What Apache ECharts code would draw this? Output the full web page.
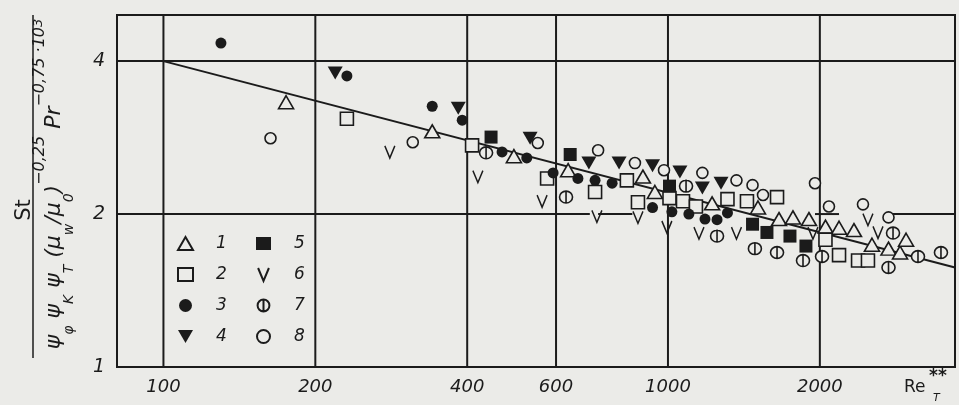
<!DOCTYPE html>
<html>
<head>
<meta charset="utf-8">
<title>St vs Re</title>
<script src="https://cdn.jsdelivr.net/npm/echarts@6/dist/echarts.min.js"></script>
<style>
  html, body { margin: 0; padding: 0; background: #ebebe8; }
  #chart { width: 959px; height: 405px; }
</style>
</head>
<body>
<div id="chart"></div>
<script>
// axis range and ticks
const xMin = 80.9, xMax = 3706;
const yMin = 1, yMax = 4.93;
const xTicks = [100, 200, 400, 600, 1000, 2000];
const yTicks = [1, 2, 4];
const xGridValues = [100, 200, 400, 600, 1000, 2000];
// the line at St=2 is only partly drawn in the original (hidden behind the points)
const yTwoSegments = [[80.9, 700], [727, 850], [1956, 2183], [2770, 3706]];

// correlation line
const fitLine = [[100, 4.0], [3706, 1.57]];

// measured points, [Re, St-group]
const series1 = [[175, 3.32], [341, 2.91], [495, 2.60], [634, 2.44], [892, 2.37], [942, 2.21], [1223, 2.10], [1508, 2.06],
  [1660, 1.955], [1769, 1.97], [1903, 1.955], [2052, 1.89], [2183, 1.88], [2337, 1.86], [2537, 1.74], [2736, 1.71], [2884, 1.68], [2964, 1.78]];
const series2 = [[231, 3.08], [409, 2.73], [576, 2.35], [717, 2.21], [829, 2.33], [872, 2.11], [1007, 2.15], [1071, 2.12],
  [1136, 2.07], [1312, 2.14], [1434, 2.12], [1645, 2.16], [2052, 1.78], [2183, 1.66], [2381, 1.62], [2491, 1.62]];
const series3 = [[130, 4.34], [231, 3.74], [341, 3.26], [391, 3.06], [469, 2.65], [525, 2.58], [592, 2.41], [663, 2.35],
  [717, 2.33], [775, 2.30], [932, 2.06], [1018, 2.02], [1100, 2.00], [1184, 1.955], [1251, 1.95], [1312, 2.01]];
const series4 = [[219, 3.79], [384, 3.23], [533, 2.82], [697, 2.52], [800, 2.52], [932, 2.49], [1056, 2.42], [1170, 2.25], [1274, 2.30]];
const series5 = [[446, 2.835], [640, 2.62], [1007, 2.27], [1471, 1.91], [1571, 1.84], [1745, 1.81], [1877, 1.73]];
const series6 = [[281, 2.65], [420, 2.37], [563, 2.12], [723, 1.98], [872, 1.97], [995, 1.886], [1152, 1.835], [1367, 1.835],
  [1938, 1.835], [2491, 1.95], [2608, 1.84]];
const series7 = [[436, 2.64], [628, 2.16], [1086, 2.27], [1251, 1.81], [1487, 1.71], [1645, 1.68], [1852, 1.62], [2020, 1.65],
  [2793, 1.835], [2736, 1.57], [3130, 1.65], [3476, 1.68]];
const series8 = [[163, 2.82], [312, 2.77], [552, 2.76], [727, 2.67], [860, 2.52], [982, 2.44], [1170, 2.41], [1367, 2.33],
  [1471, 2.28], [1543, 2.18], [1956, 2.30], [2085, 2.07], [2435, 2.09], [2736, 1.97]];

const ink = '#1b1b1b';
const paper = '#ebebe8';
const font = 'DejaVu Sans';

const V_PATH = 'path://M0,0L5,12L10,0';
const DOWN_TRI = 'path://M0,0L14,0L7,12Z';
const PHI_PATH = 'path://M0,10A10,10,0,1,1,20,10A10,10,0,1,1,0,10ZM10,-1L10,21';

function pts(name, data, symbol, size, fill) {
  return {
    name: name,
    type: 'scatter',
    data: data,
    symbol: symbol,
    symbolSize: size,
    z: 5,
    silent: true,
    itemStyle: { color: fill, borderColor: ink, borderWidth: fill === ink ? 0 : 1.6, opacity: 1 }
  };
}

// straight black rule between two data points (grid lines, fit line)
function rule(data) {
  return { type: 'line', data: data, symbol: 'none', silent: true, z: 2, lineStyle: { color: ink, width: 2 } };
}

const legendText = { fontFamily: font, fontStyle: 'italic', fontSize: 17, color: ink, padding: [0, 0, 0, 18], lineHeight: 14 };

const chart = echarts.init(document.getElementById('chart'));

chart.setOption({
  backgroundColor: paper,
  animation: false,
  grid: { left: 117, right: 4, top: 15, bottom: 38, show: true, borderColor: ink, borderWidth: 2, backgroundColor: 'transparent' },
  xAxis: {
    type: 'log',
    logBase: 10,
    min: xMin,
    max: xMax,
    axisLine: { show: true, lineStyle: { color: ink, width: 2 } },
    axisTick: { show: false },
    splitLine: { show: false },
    minorSplitLine: { show: false },
    axisLabel: {
      customValues: xTicks, color: ink, fontFamily: font, fontStyle: 'italic', fontSize: 18, margin: 11,
      formatter: v => String(Math.round(v))
    }
  },
  yAxis: {
    type: 'log',
    logBase: 2,
    min: yMin,
    max: yMax,
    axisLine: { show: true, lineStyle: { color: ink, width: 2 } },
    axisTick: { show: false },
    splitLine: { show: false },
    minorSplitLine: { show: false },
    axisLabel: {
      customValues: yTicks, color: ink, fontFamily: font, fontStyle: 'italic', fontSize: 19, margin: 12,
      formatter: v => String(Math.round(v))
    }
  },
  legend: [
    { data: ['1', '2', '3', '4'], orient: 'vertical', left: 172, top: 230, itemWidth: 15, itemHeight: 13, itemGap: 14, selectedMode: false, textStyle: legendText },
    { data: ['5', '6', '7', '8'], orient: 'vertical', left: 251, top: 230, itemWidth: 15, itemHeight: 13, itemGap: 14, selectedMode: false, textStyle: legendText }
  ],
  series: [].concat(
    [rule(fitLine), rule([[xMin, 4], [xMax, 4]])],
    xGridValues.map(v => rule([[v, yMin], [v, yMax]])),
    yTwoSegments.map(s => rule([[s[0], 2], [s[1], 2]])),
    [
      pts('1', series1, 'triangle', [15, 13], paper),
      pts('2', series2, 'rect', 13, paper),
      pts('3', series3, 'circle', 11, ink),
      pts('4', series4, DOWN_TRI, [15, 13], ink),
      pts('5', series5, 'rect', 13, ink),
      pts('6', series6, V_PATH, [10, 12], 'rgba(0,0,0,0)'),
      pts('7', series7, PHI_PATH, 13, paper),
      pts('8', series8, 'circle', 11, paper)
    ]
  ),
  graphic: [
    { type: 'text', x: 25, y: 210, rotation: Math.PI / 2,
      style: { text: 'St', fontFamily: font, fontSize: 21, fill: ink, align: 'center', verticalAlign: 'middle' } },
    { type: 'line', shape: { x1: 33, y1: 15, x2: 33, y2: 358 }, style: { stroke: ink, lineWidth: 1.5 } },
    { type: 'text', x: 54, y: 184, rotation: Math.PI / 2,
      style: {
        text: '{b|ψ}{s|φ}{b| ψ}{s|K}{b| ψ}{s|T}{b| (μ}{s|w}{b|/μ}{s|0}{b|)}{p|−0,25}{b| Pr}{p|−0,75}{p| ·10}{q|3}',
        align: 'center', verticalAlign: 'middle', fill: ink,
        rich: {
          b: { fontFamily: font, fontStyle: 'italic', fontSize: 22, lineHeight: 36, verticalAlign: 'middle', fill: ink },
          s: { fontFamily: font, fontStyle: 'italic', fontSize: 14, lineHeight: 30, verticalAlign: 'bottom', fill: ink },
          p: { fontFamily: font, fontStyle: 'italic', fontSize: 16, lineHeight: 36, verticalAlign: 'top', fill: ink },
          q: { fontFamily: font, fontStyle: 'italic', fontSize: 13, lineHeight: 44, verticalAlign: 'top', fill: ink }
        }
      } },
    { type: 'text', x: 904, y: 388,
      style: { text: 'Re', fontFamily: font, fontSize: 17, fill: ink, align: 'left', verticalAlign: 'middle' } },
    { type: 'text', x: 929, y: 377,
      style: { text: '**', fontFamily: font, fontSize: 17, fontWeight: 'bold', fill: ink, align: 'left', verticalAlign: 'middle' } },
    { type: 'text', x: 933, y: 398,
      style: { text: 'T', fontFamily: font, fontStyle: 'italic', fontSize: 11, fill: ink, align: 'left', verticalAlign: 'middle' } }
  ]
});
</script>
</body>
</html>
